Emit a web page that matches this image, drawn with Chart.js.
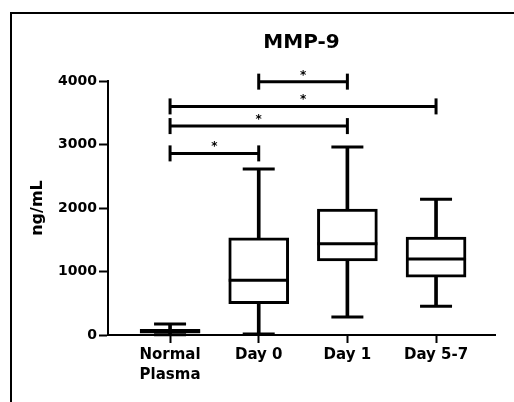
<!DOCTYPE html>
<html>
<head>
<meta charset="utf-8">
<script src="https://cdn.jsdelivr.net/npm/chart.js@4.4.1/dist/chart.umd.min.js"></script>
<style>
html, body { margin: 0; padding: 0; background: #fff; }
#wrap { position: relative; width: 514px; height: 402px; overflow: hidden; }
#frame { position: absolute; left: 10px; top: 12px; width: 520px; height: 400px; border-top: 2px solid #000; border-left: 2px solid #000; }
canvas { position: absolute; left: 0; top: 0; }
</style>
</head>
<body>
<div id="wrap">
  <div id="frame"></div>
  <canvas id="mmpChart" width="514" height="402"></canvas>
</div>
<script>
// box plot values (ng/mL)
var groups = [["Normal", "Plasma"], "Day 0", "Day 1", "Day 5-7"];
var whiskerLow = [5, 15, 283, 452];
var q1 = [30, 493, 1165, 909];
var median = [55, 861, 1438, 1197];
var q3 = [90, 1532, 1984, 1543];
var whiskerHigh = [175, 2615, 2960, 2137];
var yTicks = [0, 1000, 2000, 3000, 4000];

// significance brackets (group index from / to, height in ng/mL)
var bracketFrom = [1, 0, 0, 0];
var bracketTo = [2, 3, 2, 1];
var bracketAt = [3990, 3600, 3290, 2860];
var bracketMark = ["*", "*", "*", "*"];

var fontFamily = "'DejaVu Sans', Arial, sans-serif";

function seg(ctx, x1, y1, x2, y2) {
    ctx.beginPath();
    ctx.moveTo(x1, y1);
    ctx.lineTo(x2, y2);
    ctx.stroke();
}

var boxExtras = {
    id: "boxExtras",
    afterDatasetsDraw: function (chart) {
        var ctx = chart.ctx;
        var xs = chart.scales.x;
        var ys = chart.scales.y;
        ctx.save();
        ctx.strokeStyle = "#000";
        ctx.lineWidth = 3;
        // medians and whisker caps
        median.forEach(function (m, i) {
            var cx = xs.getPixelForValue(i);
            var my = ys.getPixelForValue(m);
            seg(ctx, cx - 30, my, cx + 30, my);
            var lo = ys.getPixelForValue(whiskerLow[i]);
            var hi = ys.getPixelForValue(whiskerHigh[i]);
            seg(ctx, cx - 16, lo, cx + 16, lo);
            seg(ctx, cx - 16, hi, cx + 16, hi);
        });
        // brackets
        ctx.fillStyle = "#000";
        ctx.font = "bold 12px " + fontFamily;
        ctx.textAlign = "center";
        ctx.textBaseline = "alphabetic";
        bracketAt.forEach(function (v, k) {
            var x1 = xs.getPixelForValue(bracketFrom[k]);
            var x2 = xs.getPixelForValue(bracketTo[k]);
            var by = ys.getPixelForValue(v);
            seg(ctx, x1, by, x2, by);
            seg(ctx, x1, by - 8, x1, by + 8);
            seg(ctx, x2, by - 8, x2, by + 8);
            ctx.fillText(bracketMark[k], (x1 + x2) / 2, by - 3);
        });
        ctx.restore();
    }
};

var ctx = document.getElementById("mmpChart").getContext("2d");
var mmpChart = new Chart(ctx, {
    type: "bar",
    data: {
        datasets: [{
            label: "IQR",
            data: q1.map(function (v, i) { return {x: i, y: [v, q3[i]]}; }),
            backgroundColor: "#fff",
            borderColor: "#000",
            borderWidth: 3,
            borderSkipped: false,
            barThickness: 60,
            grouped: false
        }, {
            label: "lower whisker",
            data: whiskerLow.map(function (v, i) { return {x: i, y: [v, q1[i]]}; }),
            backgroundColor: "#000",
            borderWidth: 0,
            barThickness: 3,
            grouped: false
        }, {
            label: "upper whisker",
            data: q3.map(function (v, i) { return {x: i, y: [v, whiskerHigh[i]]}; }),
            backgroundColor: "#000",
            borderWidth: 0,
            barThickness: 3,
            grouped: false
        }]
    },
    options: {
        responsive: false,
        animation: false,
        devicePixelRatio: 1,
        layout: { padding: { left: 24, right: 19, top: 31, bottom: 0 } },
        plugins: {
            legend: { display: false },
            tooltip: { enabled: false },
            title: {
                display: true,
                text: "MMP-9",
                fullSize: false,
                color: "#000",
                font: { family: fontFamily, size: 20, weight: "bold" },
                padding: { top: 0, bottom: 26 }
            }
        },
        scales: {
            x: {
                type: "linear",
                offset: false,
                min: -0.7,
                max: 3.665,
                afterBuildTicks: function (scale) {
                    scale.ticks = groups.map(function (g, i) { return {value: i}; });
                },
                afterFit: function (scale) { scale.height = 67; },
                grid: { display: true, offset: false, drawOnChartArea: false, drawTicks: true, tickLength: 8, tickWidth: 2, color: "#000" },
                border: { display: true, color: "#000", width: 2 },
                ticks: {
                    autoSkip: false,
                    maxRotation: 0,
                    padding: 2,
                    color: "#000",
                    font: { family: fontFamily, size: 15, weight: "bold", lineHeight: 1.33 },
                    callback: function (value) { return groups[value]; }
                }
            },
            y: {
                min: 0,
                max: 4000,
                afterBuildTicks: function (scale) {
                    scale.ticks = yTicks.map(function (v) { return {value: v}; });
                },
                afterFit: function (scale) { scale.width = 84; },
                grid: { display: true, drawOnChartArea: false, drawTicks: true, tickLength: 9, tickWidth: 2, color: "#000" },
                border: { display: true, color: "#000", width: 2 },
                ticks: {
                    padding: 2,
                    color: "#000",
                    font: { family: fontFamily, size: 14, weight: "bold" },
                    callback: function (value) { return String(value); }
                },
                title: {
                    display: true,
                    text: "ng/mL",
                    color: "#000",
                    padding: { top: 4, bottom: 0 },
                    font: { family: fontFamily, size: 16, weight: "bold" }
                }
            }
        }
    },
    plugins: [boxExtras]
});
</script>
</body>
</html>
